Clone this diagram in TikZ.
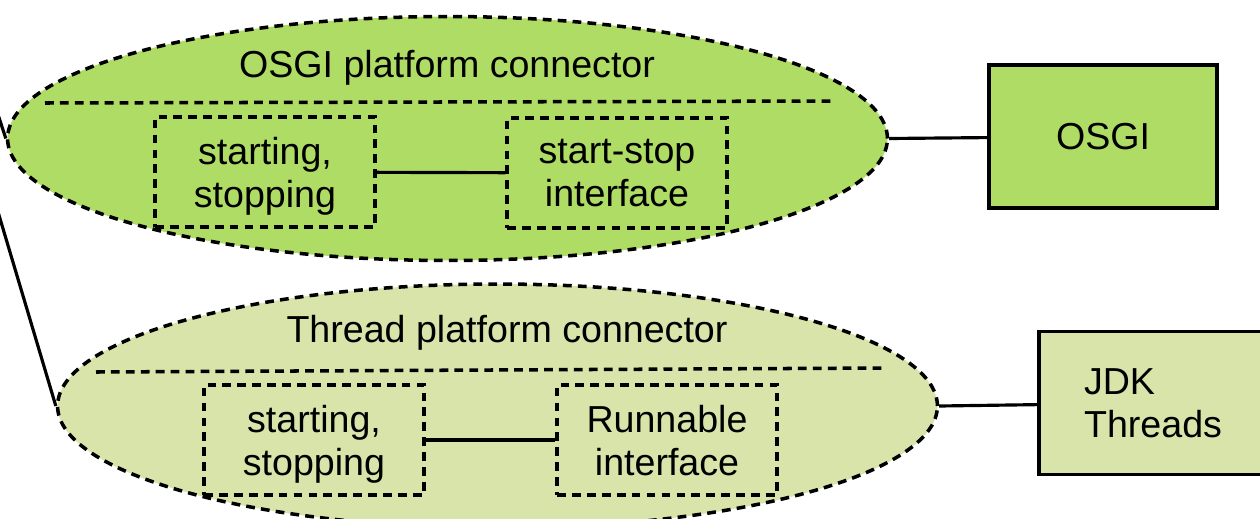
\documentclass[tikz,border=0pt]{standalone}
\usepackage{fontspec}
\setmainfont{Liberation Sans}
\usetikzlibrary{shapes.geometric}
\definecolor{osgifill}{RGB}{175,220,100}
\definecolor{threadfill}{RGB}{216,228,170}

\begin{document}
\begin{tikzpicture}[
  x=0.02cm, y=-0.02cm,
  font=\fontsize{21.4}{24.5}\selectfont,
  dots/.style={line width=2pt, dash pattern=on 5pt off 3.5pt},
  conn/.style={
    ellipse, draw, dots, inner sep=0pt,
    minimum width=17.6cm, minimum height=4.88cm
  },
  part/.style={
    draw, dots, align=center, inner sep=0pt, text depth=-1pt,
    minimum width=4.4cm, minimum height=2.2cm
  },
  platform/.style={
    draw, line width=2.2pt, align=left, inner sep=0pt, text depth=-1pt,
    minimum width=4.56cm, minimum height=2.86cm
  },
  title/.style={inner sep=0pt},
  edge/.style={draw, line width=1.8pt},
]
\clip (0,0) rectangle (1260,518);

% ---- Connectors (ellipses) ----
\node (osgiconn)   at (447.5,138.5) [conn, fill=osgifill]   {};
\node (threadconn) at (497.5,406)   [conn, fill=threadfill] {};

\node (osgititle)   at (447,68)  [title] {OSGI platform connector};
\node (threadtitle) at (507,333) [title] {Thread platform connector};

% ---- Dividers ----
\draw[dots] (45,103) -- (835,101);
\draw[dots] (96,372) -- (885,368);

% ---- Parts ----
\node (osgistart)   at (265,172) [part] {starting,\\stopping};
\node (osgiiface)   at (617,173) [part] {start-stop\\interface};
\node (threadstart) at (314,440) [part] {starting,\\stopping};
\node (threadiface) at (667,440) [part] {Runnable\\interface};

% ---- Platforms ----
\node (osgi) at (1103,136.5) [platform, fill=osgifill]   {OSGI};
\node (jdk)  at (1153,403)   [platform, fill=threadfill] {JDK\\Threads};

% ---- Free ends (off the left edge) ----
\coordinate (upA) at (-10,90);
\coordinate (upB) at (-10,185);

% ---- Edges ----
\foreach \a/\b in {osgistart/osgiiface, threadstart/threadiface,
                   osgiconn.east/osgi, threadconn.east/jdk,
                   upA/osgiconn.west, upB/threadconn.west}
  \draw[edge] (\a) -- (\b);

\end{tikzpicture}
\end{document}
